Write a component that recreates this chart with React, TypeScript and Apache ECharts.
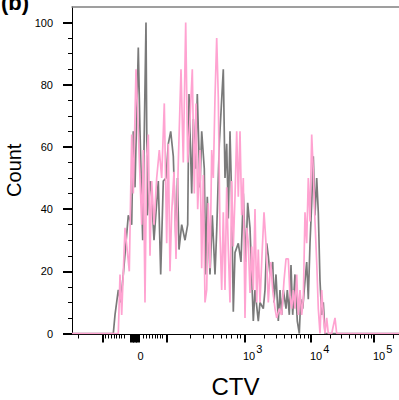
import React, { useEffect, useRef } from "react";
import * as echarts from "echarts";

const FONT = '"Liberation Sans", Arial, Helvetica, sans-serif';

// x axis: display channel (biexponential CTV scale), 0..327
const xMin = 0;
const xMax = 327;
const yMin = 0;
const yMax = 105;

// tick positions on the display channel scale
const xMajorTicks = [30.3, 59, 60.5, 62, 63.5, 65, 66.5, 94.7, 172.3, 239, 302];
const xMinorTicks = [
  6.3, 33, 36, 39.7, 42.3, 44.7, 47.3, 49.7, 52.3, 71, 74, 77.3, 80.7, 83, 85.7, 88, 90.7,
  118, 131.3, 141.3, 149.7, 154.7, 159.7, 165, 168, 192.4, 204.1, 212.5, 218.9, 224.2,
  228.6, 232.5, 235.9, 258, 269.1, 276.9, 283, 288, 292.2, 295.9, 299.1, 321,
];
const xLabelPos = [65.5, 171, 238, 301];
const xLabelBase = ["0", "10", "10", "10"];
const xLabelExp = ["", "3", "4", "5"];

const yTicks = [0, 20, 40, 60, 80, 100];
const yMinorTicks = [5, 10, 15, 25, 30, 35, 45, 50, 55, 65, 70, 75, 85, 90, 95];

// [channel, count]
const grayCounts: [number, number][] = [
  [0, 0], [41.3, 0], [43, 6], [46.3, 14], [48.7, 10], [51.3, 19], [56.3, 38], [59.7, 35],
  [61.3, 65], [63, 47], [66.3, 92], [68, 65], [70.7, 30], [72, 59], [74, 100], [75.3, 38],
  [78, 49], [79.7, 44], [82, 30], [84, 39], [86.3, 49], [88.7, 19], [91.3, 49], [94, 50],
  [96.3, 61], [98.7, 65], [101.3, 57], [104, 29], [105.5, 50], [107, 27], [109.7, 35],
  [113, 30], [115.7, 35], [117, 77], [119.7, 45], [121.3, 69], [123.7, 53], [125.3, 77],
  [128, 47], [129.7, 65], [132.3, 53], [133.7, 19], [135.3, 44], [138, 19], [140.3, 38],
  [143, 19], [144.7, 33], [147.3, 61], [151.3, 85], [153, 50], [154.7, 61], [156.3, 37],
  [158, 65], [159.7, 43], [161.3, 7], [163, 26], [166.3, 29], [169, 23], [171.3, 45],
  [173.7, 23], [175.7, 42], [178, 34], [181.3, 4], [183, 14], [186.3, 4], [188, 10],
  [191.3, 8], [193, 14], [194.7, 29], [196.3, 25], [198, 19], [200.7, 23], [202, 10],
  [204, 19], [206.3, 4], [208, 14], [209.7, 6], [211.3, 14], [214, 8], [215.3, 14],
  [217.3, 6], [219, 22], [220.7, 6], [223, 19], [225.3, 4], [227.3, 0], [228.7, 11],
  [230.7, 8], [233, 17], [234.7, 23], [236.3, 11], [238, 29], [239.7, 42], [241.3, 57],
  [243, 38], [244.7, 50], [246.3, 39], [248, 17], [249.7, 6], [251.3, 10], [253, 0],
  [254.7, 0], [327, 0],
];

const pinkCounts: [number, number][] = [
  [0, 0], [46.3, 0], [48, 19], [49.7, 6], [53, 34], [57.3, 20], [59.7, 64], [61.3, 45],
  [64, 85], [66.3, 65], [69.7, 35], [71.3, 59], [73, 10], [74.7, 57], [76.3, 64], [78, 25],
  [79.7, 49], [82, 35], [84.7, 50], [87.3, 59], [89.7, 50], [92.3, 74], [94.7, 29],
  [96.3, 61], [98, 20], [99.7, 39], [102, 52], [104, 24], [106.3, 55], [109, 85],
  [111.3, 55], [113.7, 100], [115.7, 55], [118, 69], [120.3, 85], [122.3, 45], [124, 74],
  [125.7, 40], [128, 59], [129.7, 21], [131.3, 51], [133, 10], [134.7, 14], [136.3, 42],
  [138, 21], [139.7, 59], [141.3, 50], [143, 76], [144.7, 95], [146.3, 76], [148, 32],
  [149.7, 14], [151.3, 39], [153, 14], [154.7, 47], [156.3, 27], [158, 10], [159.7, 49],
  [161.3, 28], [163, 44], [164.7, 65], [166.3, 44], [168, 65], [169.7, 38], [171.3, 50],
  [173, 5], [174.7, 34], [176.3, 29], [178, 13], [179.7, 28], [181.3, 14], [183, 40],
  [184.7, 10], [186.3, 27], [188, 10], [189.7, 23], [192, 39], [194, 29], [196.3, 10],
  [198.7, 23], [200.7, 14], [203, 8], [204.7, 5], [207.3, 8], [209.7, 6], [212, 17],
  [214, 24], [216.3, 24], [218, 12], [219.7, 8], [221.3, 14], [223, 8], [224.7, 19],
  [226.3, 6], [228, 14], [229.7, 6], [231.3, 11], [233, 39], [234.7, 29], [236.3, 50],
  [238, 36], [239.7, 64], [241.3, 52], [243, 36], [244.7, 23], [246.3, 8], [248, 0],
  [249.7, 14], [251.3, 6], [253, 0], [254.7, 5], [256.3, 0], [259.7, 0], [263, 5],
  [264.7, 0], [327, 0],
];

const GRAY = "#7a7a7a";
const PINK = "#ffa3d1";

export default function App() {
  const ref = useRef<HTMLDivElement>(null);
  useEffect(() => {
    if (!ref.current) return;
    const chart = echarts.init(ref.current, undefined, { renderer: "svg" });
    const fmtX = (v: number) => {
      const i = xLabelPos.findIndex((p) => Math.abs(p - v) < 0.01);
      if (i < 0) return "";
      return xLabelExp[i]
        ? `{a|${xLabelBase[i]}}{s|${xLabelExp[i]}}`
        : `{a|${xLabelBase[i]}}`;
    };
    const blankAxis = {
      axisLabel: { show: false },
      splitLine: { show: false },
    };
    chart.setOption({
      animation: false,
      textStyle: { fontFamily: FONT },
      grid: {
        left: 72,
        right: 0,
        top: 7,
        bottom: 66.5,
        containLabel: false,
        outerBoundsMode: "none",
      },
      graphic: [
        {
          type: "text",
          left: 1,
          top: -9,
          style: { text: "(b)", font: `bold 22px ${FONT}`, fill: "#000" },
        },
      ],
      xAxis: [
        {
          type: "value",
          min: xMin,
          max: xMax,
          position: "bottom",
          offset: 1,
          axisLine: { show: true, onZero: false, lineStyle: { color: "#000", width: 1 } },
          axisTick: {
            show: true,
            customValues: xMajorTicks,
            length: 8,
            lineStyle: { color: "#000", width: 2 },
          },
          axisLabel: {
            show: true,
            customValues: xLabelPos,
            formatter: fmtX,
            margin: 12,
            align: "left",
            color: "#000",
            rich: {
              a: { fontSize: 11, lineHeight: 11, padding: [7, 0, 0, 0], color: "#000", fontFamily: FONT },
              s: { fontSize: 11, lineHeight: 11, padding: [0, 0, 7, 1], color: "#000", fontFamily: FONT },
            },
          },
          splitLine: { show: false },
          name: "CTV",
          nameLocation: "middle",
          nameGap: 40,
          nameTextStyle: { fontSize: 24, color: "#000", fontFamily: FONT },
        },
        {
          type: "value",
          min: xMin,
          max: xMax,
          position: "bottom",
          offset: 1,
          axisLine: { show: false, onZero: false },
          axisTick: {
            show: true,
            customValues: xMinorTicks,
            length: 4,
            lineStyle: { color: "#000", width: 1 },
          },
          ...blankAxis,
        },
        {
          type: "value",
          min: xMin,
          max: xMax,
          position: "top",
          axisLine: { show: true, onZero: false, lineStyle: { color: "#808080", width: 1.5 } },
          axisTick: { show: false },
          ...blankAxis,
        },
      ],
      yAxis: [
        {
          type: "value",
          min: yMin,
          max: yMax,
          position: "left",
          axisLine: { show: true, onZero: false, lineStyle: { color: "#000", width: 1 } },
          axisTick: {
            show: true,
            customValues: yTicks,
            length: 9,
            lineStyle: { color: "#000", width: 2 },
          },
          axisLabel: {
            show: true,
            customValues: yTicks,
            margin: 19,
            fontSize: 11,
            color: "#000",
            fontFamily: FONT,
          },
          splitLine: { show: false },
          name: "Count",
          nameLocation: "middle",
          nameGap: 42,
          nameTextStyle: { fontSize: 20, color: "#000", fontFamily: FONT },
        },
        {
          type: "value",
          min: yMin,
          max: yMax,
          position: "left",
          axisLine: { show: false, onZero: false },
          axisTick: {
            show: true,
            customValues: yMinorTicks,
            length: 4,
            lineStyle: { color: "#000", width: 1 },
          },
          ...blankAxis,
        },
      ],
      series: [
        {
          type: "line",
          data: grayCounts,
          xAxisIndex: 0,
          yAxisIndex: 0,
          showSymbol: false,
          lineStyle: { color: GRAY, width: 1.7 },
          itemStyle: { color: GRAY },
        },
        {
          type: "line",
          data: pinkCounts,
          xAxisIndex: 0,
          yAxisIndex: 0,
          showSymbol: false,
          lineStyle: { color: PINK, width: 1.7 },
          itemStyle: { color: PINK },
        },
      ],
    });
    return () => chart.dispose();
  }, []);
  return (
    <div
      ref={ref}
      style={{ position: "absolute", left: 0, top: 0, width: 399, height: 400 }}
    />
  );
}
